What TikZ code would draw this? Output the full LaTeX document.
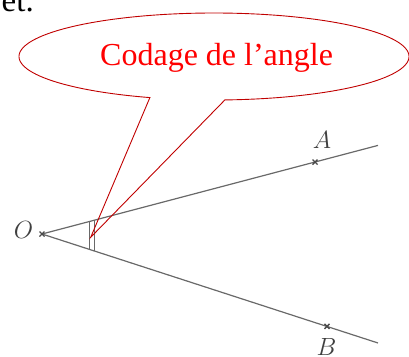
\documentclass[tikz,border=0pt]{standalone}
\usepackage{fontspec}
\setmainfont{Liberation Serif}
\usetikzlibrary{calc}
\definecolor{raygray}{RGB}{105,105,105}
\definecolor{calloutred}{RGB}{192,0,0}
\definecolor{textred}{RGB}{255,0,0}
\tikzset{
  ray/.style={draw=raygray, line width=1.2pt},
  ptmark/.style={draw=raygray!70!black, line width=1.4pt},
  ptlabel/.style={text=raygray!60!black, inner sep=0pt, font=\fontsize{23}{23}\selectfont},
  callout/.style={draw=calloutred, line width=0.9pt, line join=miter},
  callouttext/.style={text=textred, inner sep=0pt, font=\fontsize{32}{32}\selectfont},
}
\begin{document}
\begin{tikzpicture}[x=1pt, y=-1pt]
\useasboundingbox (0,0) rectangle (409,356);
\clip (0,0) rectangle (409,356);
% fragment of preceding text
\node[anchor=base east, inner sep=0pt, font=\fontsize{33}{33}\selectfont] (frag) at (34,12) {et.};
% geometry
\coordinate (O) at (42,234);
\coordinate (Aend) at (378,145.4);
\coordinate (Bend) at (378,343);
\coordinate (A) at ($(O)!{(315-42)/336}!(Aend)$);
\coordinate (B) at ($(O)!{(327-42)/336}!(Bend)$);
\draw[ray] (O) -- (Aend);
\draw[ray] (O) -- (Bend);
% angle coding
\coordinate (m1a) at ($(O)!{(89.5-42)/336}!(Aend)$);
\coordinate (m1b) at ($(O)!{(89.5-42)/336}!(Bend)$);
\coordinate (m2a) at ($(O)!{(94-42)/336}!(Aend)$);
\coordinate (m2b) at ($(O)!{(94-42)/336}!(Bend)$);
\draw[ray, line width=0.9pt] (m1a) -- (m1b);
\draw[ray, line width=0.9pt] (m2a) -- (m2b);
% point marks
\foreach \p in {O,A,B}{
  \draw[ptmark] ($(\p)+(-2.5,-2.5)$) -- ($(\p)+(2.5,2.5)$);
  \draw[ptmark] ($(\p)+(-2.5,2.5)$) -- ($(\p)+(2.5,-2.5)$);
}
% labels
\node[ptlabel] (Olab) at (23.5,230) {$O$};
\node[ptlabel] (Alab) at (322,140) {$A$};
\node[ptlabel] (Blab) at (326.5,346.5) {$B$};
% callout
\coordinate (apex) at (90.7,237.3);
\draw[callout] plot[domain=109.2:446.8, samples=240, smooth] ({214+195*cos(\x)}, {56.5+43.5*sin(\x)}) -- (apex) -- cycle;
\node[callouttext, anchor=base west] (ctext) at (100,65) {Codage de l’angle};
\end{tikzpicture}
\end{document}
